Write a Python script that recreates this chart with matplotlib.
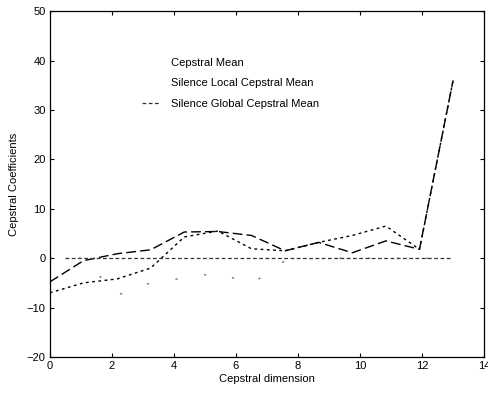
import numpy as np
import matplotlib.pyplot as plt

plt.rcParams['font.family'] = ['Liberation Sans', 'DejaVu Sans']

# cepstral dimension positions (13 coefficients spread over 0..13)
dims = np.linspace(0, 13, 13)

cepstral_mean = [-4.8, -0.5, 0.9, 1.7, 5.3, 5.4, 4.6, 1.5, 3.2, 1.1, 3.5, 1.8, 36.0]
silence_local = [-7.0, -5.0, -4.2, -2.0, 4.3, 5.5, 1.9, 1.5, 3.2, 4.6, 6.5, 1.8, 36.0]
silence_global = [0, 0, 0, 0, 0, 0, 0, 0, 0, 0, 0, 0, 0]
# faint remains of a trace that is mostly lost in the scan
faint_trace = [0, 0, -7.5, -5.0, -4.0, -3.0, -5.2, -0.5, 0, 0, 0, 0, 0]

labels = ["Cepstral Mean", "Silence Local Cepstral Mean", "Silence Global Cepstral Mean"]

fig = plt.figure(figsize=(4.89, 3.97), dpi=100)
ax = fig.add_axes([0.102, 0.1008, 0.888, 0.871])

l1, = ax.plot(dims, cepstral_mean, color='black', lw=1.0, dashes=(7, 3))
l2, = ax.plot(dims, silence_local, color='black', lw=1.0, dashes=(2, 2.5))
# global mean line stops just short of the last point
gx = np.array(dims)
gx[0] = 0.5
gx[-1] = 12.9
l3, = ax.plot(gx, silence_global, color='#333333', lw=0.9, dashes=(3, 2))
ax.plot(dims, faint_trace, color='#555555', lw=0.8, dashes=(2, 24))

ax.set_xlim(0, 14)
ax.set_ylim(-20, 50)
ax.set_xticks(np.arange(0, 15, 2))
ax.set_yticks(np.arange(-20, 51, 10))
ax.tick_params(direction='in', top=True, right=True, labelsize=8, length=3, width=0.8, pad=3)
for s in ax.spines.values():
    s.set_linewidth(0.9)

ax.set_xlabel("Cepstral dimension", fontsize=8, labelpad=2)
ax.set_ylabel("Cepstral Coefficients", fontsize=8, labelpad=6)

leg = ax.legend([l1, l2, l3], labels, loc='upper left', bbox_to_anchor=(0.19, 0.895),
                frameon=False, fontsize=8, handlelength=1.6, handletextpad=1.0,
                labelspacing=0.95)
leg.legend_handles[0].set_visible(False)
leg.legend_handles[1].set_visible(False)

fig.savefig("out.png", dpi=100)
